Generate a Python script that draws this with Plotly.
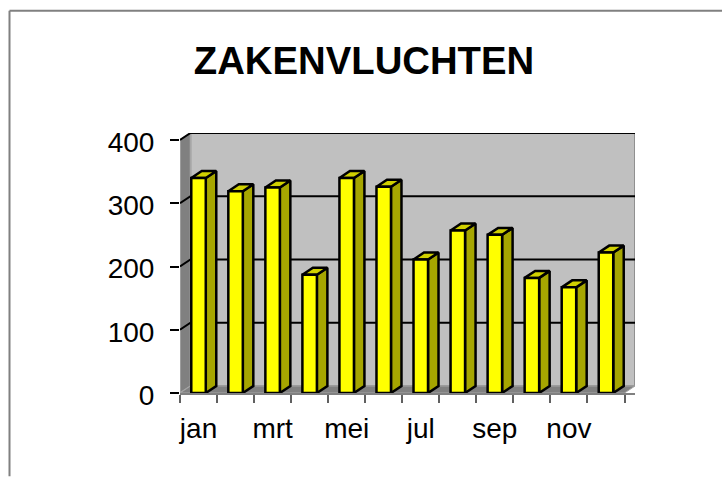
import plotly.graph_objects as go

MONTHS = ["jan", "feb", "mrt", "apr", "mei", "jun", "jul", "aug", "sep", "okt", "nov", "dec"]
SHOWN = ["jan", "", "mrt", "", "mei", "", "jul", "", "sep", "", "nov", ""]
VALUES = [340, 319, 325, 187, 340, 326, 211, 257, 250, 182, 167, 222]
Y_TICKS = [0, 100, 200, 300, 400]
TITLE = "ZAKENVLUCHTEN"

PX_X = 37.05
PX_Y = 253 / 400
DX = 10.5 / PX_X      # depth in category units
DY = 7 / PX_Y         # depth in value units
BAR_W = 14.5 / PX_X
n = len(MONTHS)
BLACK = "#000000"

L, R, T, B = 180, 87, 133, 83.5
PLOT_W, PLOT_H = 722 - L - R, 477 - T - B


def poly(xs, ys, fill, line=BLACK, width=2.5):
    return go.Scatter(x=xs + xs[:1], y=ys + ys[:1], mode="lines", fill="toself",
                      fillcolor=fill, line=dict(color=line, width=width), cliponaxis=False,
                      hoverinfo="skip", showlegend=False)


fig = go.Figure()
# back wall, left wall, floor
fig.add_trace(poly([DX, n + DX, n + DX, DX], [DY, DY, 400 + DY, 400 + DY], "#C0C0C0", "#808080", 1.5))
fig.add_trace(poly([0, DX, DX, 0], [0, DY, 400 + DY, 400], "#808080", "#A6A6A6", 1.5))
fig.add_trace(poly([0, n, n + DX, DX], [0, 0, DY, DY], "#808080", "#A6A6A6", 1))
# gridlines
for v in Y_TICKS[1:]:
    fig.add_trace(go.Scatter(x=[0, DX, n + DX], y=[v, v + DY, v + DY], mode="lines", cliponaxis=False,
                             line=dict(color=BLACK, width=2), hoverinfo="skip", showlegend=False))
# bars
for i, v in enumerate(VALUES):
    left = i + (1 - BAR_W) / 2
    right = left + BAR_W
    fig.add_trace(poly([right, right + DX, right + DX, right], [0, DY, v + DY, v], "#A6A600"))
    fig.add_trace(poly([left, right, right + DX, left + DX], [v, v, v + DY, v + DY], "#D0D000"))
    fig.add_trace(poly([left, right, right, left], [0, 0, v, v], "#FFFF00"))

fig.update_xaxes(range=[0, n + DX], tickmode="array", tickvals=[i + 0.5 for i in range(n)], ticktext=SHOWN,
                 showgrid=False, zeroline=False, showline=False, ticks="", ticklabelstandoff=16,
                 tickfont=dict(family="Liberation Sans", size=28, color=BLACK))
fig.update_yaxes(range=[0, 400 + DY], tickmode="array", tickvals=Y_TICKS, ticktext=[str(v) for v in Y_TICKS],
                 showgrid=False, zeroline=False, showline=False, ticks="outside", ticklen=9,
                 tickwidth=1.5, tickcolor=BLACK, ticklabelstandoff=10, ticklabelshift=2,
                 tickfont=dict(family="Liberation Sans", size=28, color=BLACK))
# x tick marks on category boundaries via a second axis
fig.update_layout(
    xaxis2=dict(overlaying="x", side="bottom", anchor="y", range=[0, n + DX], tickmode="array",
                tickvals=list(range(n + 1)), ticktext=[""] * (n + 1), ticks="outside", ticklen=8,
                tickwidth=1.5, tickcolor="#606060", showgrid=False, zeroline=False, showline=True,
                linecolor="#808080", linewidth=1.5),
)
fig.add_trace(go.Scatter(x=[0], y=[0], xaxis="x2", mode="markers", marker=dict(opacity=0),
                         hoverinfo="skip", showlegend=False))

# outer chart frame: only its top and left edges fall inside the picture
def px(x):
    return (x - L) / PLOT_W


def py(y):
    return 1 - (y - T) / PLOT_H


FRAME = dict(color="#808080", width=2)
fig.update_layout(
    width=722, height=477, autosize=False,
    margin=dict(l=L, r=R, t=T, b=B, pad=0),
    paper_bgcolor="white", plot_bgcolor="white", showlegend=False,
    title=dict(text="<b>%s</b>" % TITLE, x=364 / 722, xanchor="center", y=1 - 61 / 477, yanchor="middle",
               font=dict(family="Liberation Sans", size=38.3, color=BLACK)),
    shapes=[
        dict(type="line", xref="paper", yref="paper", x0=px(9.5), x1=px(722), y0=py(10.5), y1=py(10.5), line=FRAME),
        dict(type="line", xref="paper", yref="paper", x0=px(9.5), x1=px(9.5), y0=py(10.5), y1=py(477), line=FRAME),
    ],
)
fig.write_html("out.html", post_script="document.body.style.margin='0';", config=dict(displayModeBar=False))
